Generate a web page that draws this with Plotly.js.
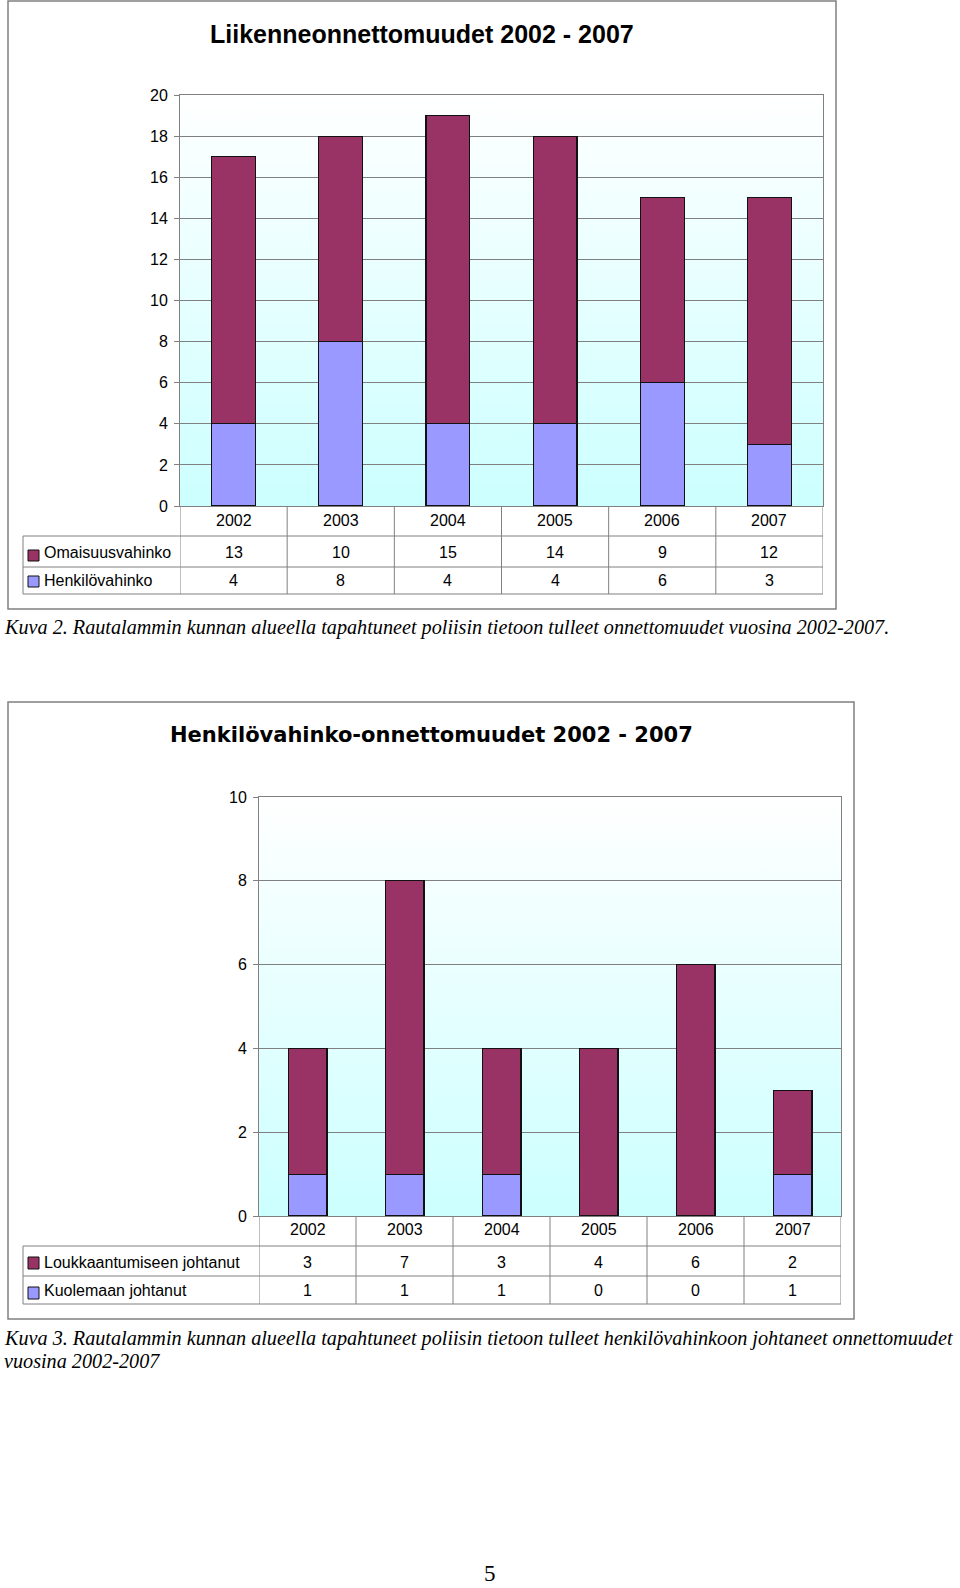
<!DOCTYPE html>
<html>
<head>
<meta charset="utf-8">
<script src="https://cdn.plot.ly/plotly-3.0.1.min.js"></script>
<style>html,body{margin:0;padding:0;background:#fff;}#chart{width:960px;height:1588px;}</style>
</head>
<body>
<div id="chart"></div>
<script>
// ---- data ----
const years = ['2002', '2003', '2004', '2005', '2006', '2007'];
const omaisuusvahinko = [13, 10, 15, 14, 9, 12];
const henkilovahinko = [4, 8, 4, 4, 6, 3];
const loukkaantumiseen = [3, 7, 3, 4, 6, 2];
const kuolemaan = [1, 1, 1, 0, 0, 1];
const title1 = 'Liikenneonnettomuudet 2002 - 2007';
const title2 = 'Henkilövahinko-onnettomuudet 2002 - 2007';
const series1Names = ['Omaisuusvahinko', 'Henkilövahinko'];
const series2Names = ['Loukkaantumiseen johtanut', 'Kuolemaan johtanut'];
const caption1 = 'Kuva 2. Rautalammin kunnan alueella tapahtuneet poliisin tietoon tulleet onnettomuudet vuosina 2002-2007.';
const caption2a = 'Kuva 3. Rautalammin kunnan alueella tapahtuneet poliisin tietoon tulleet henkilövahinkoon johtaneet onnettomuudet';
const caption2b = 'vuosina 2002-2007';
const pageNumber = '5';

// ---- helpers ----
const W = 960, H = 1588;
const px = x => x / W;
const py = y => 1 - y / H;
const MAROON = '#993366', LAV = '#9999FF', GRID = '#808080';
const SANS = 'Arial, Liberation Sans, sans-serif';
const SERIF = 'Times New Roman, Liberation Serif, serif';

const traces = [
  {type: 'bar', x: years, y: henkilovahinko, name: series1Names[1], xaxis: 'x', yaxis: 'y', width: 0.41,
   marker: {color: LAV, line: {color: '#111', width: 1.2}}, hoverinfo: 'skip'},
  {type: 'bar', x: years, y: omaisuusvahinko, name: series1Names[0], xaxis: 'x', yaxis: 'y', width: 0.41,
   marker: {color: MAROON, line: {color: '#111', width: 1.2}}, hoverinfo: 'skip'},
  {type: 'bar', x: years, y: kuolemaan, name: series2Names[1], xaxis: 'x2', yaxis: 'y2', width: 0.40,
   marker: {color: LAV, line: {color: '#111', width: 1.2}}, hoverinfo: 'skip'},
  {type: 'bar', x: years, y: loukkaantumiseen, name: series2Names[0], xaxis: 'x2', yaxis: 'y2', width: 0.40,
   marker: {color: MAROON, line: {color: '#111', width: 1.2}}, hoverinfo: 'skip'}
];

// chart geometry (pixels)
const C1 = {left: 180, right: 823, top: 95, bottom: 506, rows: [536, 567, 594], frame: [8, 1, 836, 609],
            hdrY: 520, rowY: [552, 580], sqY: [[550, 561], [576, 587]], titleX: 422, titleY: 34,
            titleFont: {family: SANS, size: 25, color: '#000', weight: 'bold'}, ax: 'x', ay: 'y'};
const C2 = {left: 259, right: 841, top: 797, bottom: 1216, rows: [1246, 1276, 1304], frame: [8, 702, 854, 1319],
            hdrY: 1229, rowY: [1262, 1290], sqY: [[1257, 1269], [1287, 1299]], titleX: 431, titleY: 735,
            titleFont: {family: 'DejaVu Sans, sans-serif', size: 21, color: '#000', weight: 'bold'}, ax: 'x2', ay: 'y2'};

const shapes = [], annotations = [], images = [];
const gradSvg = "<svg xmlns='http://www.w3.org/2000/svg' width='10' height='100' viewBox='0 0 10 100' preserveAspectRatio='none'>" +
  "<defs><linearGradient id='g' x1='0' y1='0' x2='0' y2='1'><stop offset='0' stop-color='#ffffff'/>" +
  "<stop offset='1' stop-color='#ccffff'/></linearGradient></defs><rect width='10' height='100' fill='url(#g)'/></svg>";
const gradUri = 'data:image/svg+xml;charset=utf-8,' + encodeURIComponent(gradSvg);

function build(C, rowVals, rowNames, rowColors) {
  // frame
  shapes.push({type: 'rect', xref: 'paper', yref: 'paper', x0: px(C.frame[0]), x1: px(C.frame[2]),
    y0: py(C.frame[1]), y1: py(C.frame[3]), line: {color: GRID, width: 1.5}, fillcolor: 'rgba(0,0,0,0)', layer: 'below'});
  // gradient plot background
  images.push({source: gradUri, xref: 'paper', yref: 'paper', x: px(C.left), y: py(C.top),
    sizex: px(C.right) - px(C.left), sizey: py(C.top) - py(C.bottom), sizing: 'stretch',
    xanchor: 'left', yanchor: 'top', layer: 'below'});
  // table horizontal lines
  C.rows.forEach(r => shapes.push({type: 'line', xref: 'paper', yref: 'paper', x0: px(23), x1: px(C.right),
    y0: py(r), y1: py(r), line: {color: GRID, width: 1}}));
  // left table border
  shapes.push({type: 'line', xref: 'paper', yref: 'paper', x0: px(23), x1: px(23),
    y0: py(C.rows[0]), y1: py(C.rows[2]), line: {color: GRID, width: 1}});
  // column boundaries
  for (let i = 0; i <= years.length; i++) {
    shapes.push({type: 'line', xref: C.ax, yref: 'paper', x0: i - 0.5, x1: i - 0.5,
      y0: py(C.bottom), y1: py(C.rows[2]), line: {color: GRID, width: 1}});
  }
  // header + values
  years.forEach((yr, i) => {
    annotations.push({xref: C.ax, yref: 'paper', x: i, y: py(C.hdrY), text: yr, showarrow: false,
      xanchor: 'center', yanchor: 'middle', font: {family: SANS, size: 16, color: '#000'}});
    rowVals.forEach((vals, r) => annotations.push({xref: C.ax, yref: 'paper', x: i, y: py(C.rowY[r]),
      text: String(vals[i]), showarrow: false, xanchor: 'center', yanchor: 'middle',
      font: {family: SANS, size: 16, color: '#000'}}));
  });
  // row labels and legend squares
  rowNames.forEach((nm, r) => {
    shapes.push({type: 'rect', xref: 'paper', yref: 'paper', x0: px(28), x1: px(39),
      y0: py(C.sqY[r][0]), y1: py(C.sqY[r][1]), fillcolor: rowColors[r], line: {color: '#111', width: 1}});
    annotations.push({xref: 'paper', yref: 'paper', x: px(42), y: py(C.rowY[r]), text: nm, showarrow: false,
      xanchor: 'left', yanchor: 'middle', font: {family: SANS, size: 16, color: '#000'}});
  });
  // title
  annotations.push({xref: 'paper', yref: 'paper', x: px(C.titleX), y: py(C.titleY), text: C === C1 ? title1 : title2,
    showarrow: false, xanchor: 'center', yanchor: 'middle', font: C.titleFont});
}

build(C1, [omaisuusvahinko, henkilovahinko], series1Names, [MAROON, LAV]);
build(C2, [loukkaantumiseen, kuolemaan], series2Names, [MAROON, LAV]);

const capFont = {family: SERIF, size: 20.2, color: '#000', style: 'italic'};
annotations.push({xref: 'paper', yref: 'paper', x: px(2), y: py(628), text: caption1, showarrow: false,
  xanchor: 'left', yanchor: 'middle', align: 'left', font: capFont});
annotations.push({xref: 'paper', yref: 'paper', x: px(2), y: py(1338), text: caption2a, showarrow: false,
  xanchor: 'left', yanchor: 'middle', align: 'left', font: capFont});
annotations.push({xref: 'paper', yref: 'paper', x: px(2), y: py(1361), text: caption2b, showarrow: false,
  xanchor: 'left', yanchor: 'middle', align: 'left', font: capFont});
annotations.push({xref: 'paper', yref: 'paper', x: px(490), y: py(1587), text: pageNumber, showarrow: false,
  xanchor: 'center', yanchor: 'bottom', borderpad: 0, font: {family: SERIF, size: 23, color: '#000'}});

function xAx(C) {
  return {domain: [px(C.left), px(C.right)], range: [-0.5, 5.5], type: 'category', showticklabels: false,
    showgrid: false, zeroline: false, showline: true, linecolor: GRID, linewidth: 1, mirror: true,
    ticks: '', fixedrange: true};
}
function yAx(C, max, anchor) {
  return {domain: [py(C.bottom), py(C.top)], range: [0, max], dtick: 2, showgrid: true, gridcolor: GRID,
    gridwidth: 1, zeroline: false, showline: true, linecolor: GRID, linewidth: 1, mirror: true,
    ticks: 'outside', ticklen: 5, tickcolor: GRID, anchor: anchor, ticklabelstandoff: 3,
    tickfont: {family: SANS, size: 16, color: '#000'}, fixedrange: true};
}

const layout = {
  width: W, height: H, margin: {l: 0, r: 0, t: 0, b: 0},
  paper_bgcolor: '#ffffff', plot_bgcolor: 'rgba(0,0,0,0)',
  barmode: 'stack', showlegend: false,
  xaxis: Object.assign(xAx(C1), {anchor: 'y'}),
  yaxis: yAx(C1, 20, 'x'),
  xaxis2: Object.assign(xAx(C2), {anchor: 'y2'}),
  yaxis2: yAx(C2, 10, 'x2'),
  shapes: shapes, annotations: annotations, images: images
};

Plotly.newPlot('chart', traces, layout, {staticPlot: true, displayModeBar: false});
</script>
</body>
</html>
